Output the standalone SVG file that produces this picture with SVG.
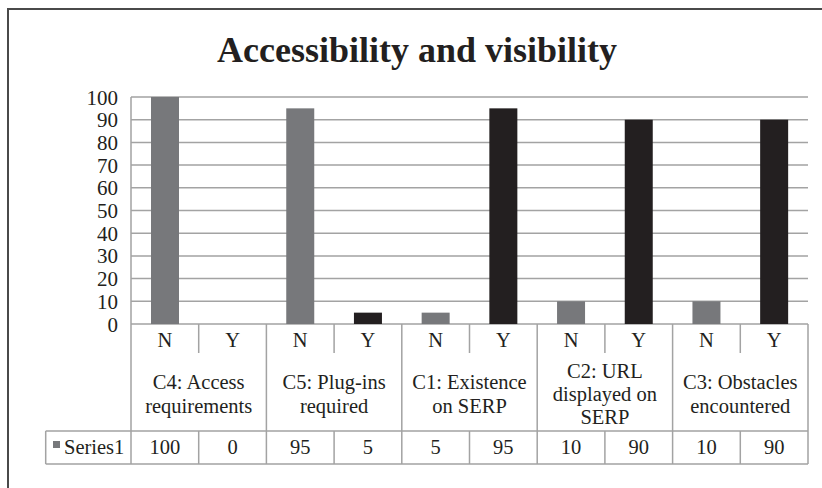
<svg xmlns="http://www.w3.org/2000/svg" width="822" height="488" viewBox="0 0 822 488">
<style>
text{font-family:"Liberation Serif","Times New Roman",serif;fill:#231f20}
.t{font-size:36px;font-weight:bold;text-anchor:middle}
.ax{font-size:21px;text-anchor:end}
.lb{font-size:20.5px;text-anchor:middle}
.grid{stroke:#a3a3a3;stroke-width:1.5;fill:none}
.tbl{stroke:#a3a3a3;stroke-width:1.5;fill:none}
.n{fill:#77787b}
.y{fill:#231f20}
</style>
<rect width="822" height="488" fill="#fff"/>
<path d="M8,488 V9 H822" stroke="#4a4a4a" stroke-width="2" fill="none"/>
<text class="t" x="417" y="62">Accessibility and visibility</text>
<g id="gridlines" class="grid">
<path d="M131,97 H808 M131,119.7 H808 M131,142.4 H808 M131,165.1 H808 M131,187.8 H808 M131,210.5 H808 M131,233.2 H808 M131,255.9 H808 M131,278.6 H808 M131,301.3 H808 M131,324 H808 M131,97 V464"/>
</g>
<g id="axis-labels">
<text class="ax" x="118" y="104.5">100</text>
<text class="ax" x="118" y="127.2">90</text>
<text class="ax" x="118" y="149.9">80</text>
<text class="ax" x="118" y="172.6">70</text>
<text class="ax" x="118" y="195.3">60</text>
<text class="ax" x="118" y="218">50</text>
<text class="ax" x="118" y="240.7">40</text>
<text class="ax" x="118" y="263.4">30</text>
<text class="ax" x="118" y="286.1">20</text>
<text class="ax" x="118" y="308.8">10</text>
<text class="ax" x="118" y="331.5">0</text>
</g>
<g id="bars">
<rect class="n" x="151" y="97" width="28" height="227"/>
<rect class="n" x="286.25" y="108.35" width="28" height="215.65"/>
<rect class="y" x="353.95" y="312.65" width="28" height="11.35"/>
<rect class="n" x="421.65" y="312.65" width="28" height="11.35"/>
<rect class="y" x="489.35" y="108.35" width="28" height="215.65"/>
<rect class="n" x="557.05" y="301.3" width="28" height="22.7"/>
<rect class="y" x="624.75" y="119.7" width="28" height="204.3"/>
<rect class="n" x="692.45" y="301.3" width="28" height="22.7"/>
<rect class="y" x="760.15" y="119.7" width="28" height="204.3"/>
</g>
<g id="table" class="tbl">
<path d="M808,324 V464 M266.4,324 V464 M401.8,324 V464 M537.2,324 V464 M672.6,324 V464"/>
<path d="M198.7,324 V353 M334.1,324 V353 M469.5,324 V353 M604.9,324 V353 M740.3,324 V353"/>
<path d="M198.7,431 V464 M334.1,431 V464 M469.5,431 V464 M604.9,431 V464 M740.3,431 V464"/>
<path d="M45.7,431 H808 M45.7,464 H808 M45.7,431 V464"/>
</g>
<g id="nylabels">
<text class="lb" x="164.85" y="347">N</text>
<text class="lb" x="232.55" y="347">Y</text>
<text class="lb" x="300.25" y="347">N</text>
<text class="lb" x="367.95" y="347">Y</text>
<text class="lb" x="435.65" y="347">N</text>
<text class="lb" x="503.35" y="347">Y</text>
<text class="lb" x="571.05" y="347">N</text>
<text class="lb" x="638.75" y="347">Y</text>
<text class="lb" x="706.45" y="347">N</text>
<text class="lb" x="774.15" y="347">Y</text>
</g>
<g id="cat-c4"><text class="lb" x="198.7" y="389">C4: Access</text><text class="lb" x="198.7" y="412.5">requirements</text></g>
<g id="cat-c5"><text class="lb" x="334.1" y="389">C5: Plug-ins</text><text class="lb" x="334.1" y="412.5">required</text></g>
<g id="cat-c1"><text class="lb" x="469.5" y="389">C1: Existence</text><text class="lb" x="469.5" y="412.5">on SERP</text></g>
<g id="cat-c2"><text class="lb" x="604.9" y="377.5">C2: URL</text><text class="lb" x="604.9" y="400.5">displayed on</text><text class="lb" x="604.9" y="423.5">SERP</text></g>
<g id="cat-c3"><text class="lb" x="740.3" y="389">C3: Obstacles</text><text class="lb" x="740.3" y="412.5">encountered</text></g>
<g id="data-row">
<rect x="53" y="441" width="7" height="7" fill="#77787b"/>
<text x="64" y="454" style="font-size:20.5px">Series1</text>
<text class="lb" x="164.85" y="454">100</text>
<text class="lb" x="232.55" y="454">0</text>
<text class="lb" x="300.25" y="454">95</text>
<text class="lb" x="367.95" y="454">5</text>
<text class="lb" x="435.65" y="454">5</text>
<text class="lb" x="503.35" y="454">95</text>
<text class="lb" x="571.05" y="454">10</text>
<text class="lb" x="638.75" y="454">90</text>
<text class="lb" x="706.45" y="454">10</text>
<text class="lb" x="774.15" y="454">90</text>
</g>
</svg>
